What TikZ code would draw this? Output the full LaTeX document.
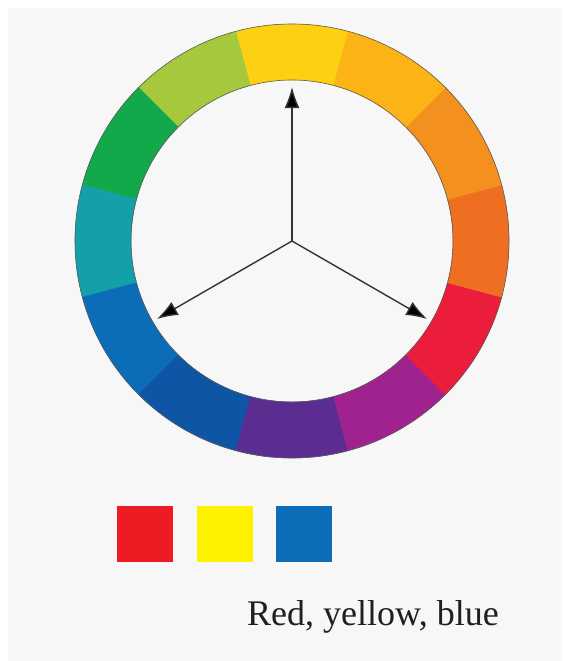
\documentclass[tikz,border=0pt]{standalone}
\usepackage{xcolor,fontspec}
\setmainfont{Liberation Serif}
\usetikzlibrary{arrows.meta,calc}
\definecolor{bgcol}{HTML}{F7F7F7}
\definecolor{wYel}{HTML}{FDD112}
\definecolor{wYelGrn}{HTML}{A6C83C}
\definecolor{wGrn}{HTML}{13A94B}
\definecolor{wTeal}{HTML}{14A0A8}
\definecolor{wBlu}{HTML}{0B6DB7}
\definecolor{wDkBlu}{HTML}{0F55A5}
\definecolor{wVio}{HTML}{5B2D91}
\definecolor{wPur}{HTML}{A0228F}
\definecolor{wRed}{HTML}{EC1C3B}
\definecolor{wRedOr}{HTML}{EF6F22}
\definecolor{wOr}{HTML}{F4901E}
\definecolor{wYelOr}{HTML}{FBB316}
\definecolor{pRed}{HTML}{ED1C24}
\definecolor{pYel}{HTML}{FFF200}
\definecolor{pBlu}{HTML}{0B6CB8}
\definecolor{ink}{HTML}{333333}

\begin{document}
\begin{tikzpicture}[x=1pt,y=1pt,>={Latex[length=21pt,width=15pt,fill=black]},
  swatch/.style={minimum size=56pt,inner sep=0pt,outer sep=0pt},
  ringline/.style={draw=ink!80,line width=.6pt}]
\useasboundingbox (0,0) rectangle (562,-661);
\fill[white] (0,0) rectangle (562,-661);
\fill[bgcol] (8,-8) rectangle (562,-661);
\coordinate (c) at (292,-241);
% twelve segments of the wheel
\begin{scope}[shift={(c)}]
\foreach \a/\col in {90/wYel,120/wYelGrn,150/wGrn,180/wTeal,210/wBlu,240/wDkBlu,270/wVio,300/wPur,330/wRed,0/wRedOr,30/wOr,60/wYelOr}{
\fill[\col,draw=\col,line width=.4pt] (\a-15:161)--(\a-15:217) arc[start angle=\a-15,end angle=\a+15,radius=217]--(\a+15:161) arc[start angle=\a+15,end angle=\a-15,radius=161]--cycle;}
\draw[ringline] (0,0) circle (217) (0,0) circle (161);
\end{scope}
\coordinate (ty) at ($(c)+(90:154)$);\coordinate (tb) at ($(c)+(210:156)$);\coordinate (tr) at ($(c)+(330:156)$);
\draw[->,ink,line width=1.4pt] (c)--(ty);\draw[->,ink,line width=1.4pt] (c)--(tb);\draw[->,ink,line width=1.4pt] (c)--(tr);
\node[swatch,fill=pRed] (sqR) at (145,-533.5){};
\node[swatch,fill=pYel] (sqY) at (224.5,-533.5){};
\node[swatch,fill=pBlu] (sqB) at (304,-533.5){};
\node[anchor=base west,inner sep=0pt,font=\fontsize{36}{42}\selectfont,text=black!88] (cap) at (247,-625){Red, yellow, blue};
\end{tikzpicture}
\end{document}
